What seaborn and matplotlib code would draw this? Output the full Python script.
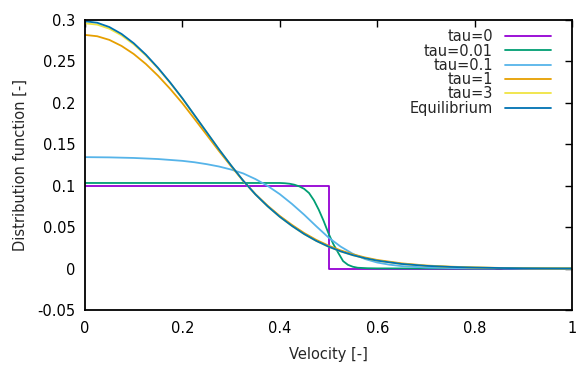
import numpy as np
import pandas as pd
import matplotlib
matplotlib.use("Agg")
import matplotlib.pyplot as plt
import seaborn as sns

sns.set_theme(style="white")
plt.rcParams['font.family'] = ['DejaVu Sans']

# ---- data ----
v_tau0 = [0.0, 0.5, 0.5, 1.0]
f_tau0 = [0.1, 0.1, 0.0, 0.0]

v_tau001 = [0.0, 0.1, 0.2, 0.3, 0.4, 0.41, 0.42, 0.43, 0.44, 0.45, 0.46, 0.47, 0.48,
            0.49, 0.50, 0.51, 0.52, 0.53, 0.54, 0.55, 0.56, 0.58, 0.6, 0.7, 0.8, 1.0]
f_tau001 = [0.1033, 0.1033, 0.1033, 0.1033, 0.1033, 0.1030, 0.1024, 0.1012, 0.0992,
            0.0962, 0.0912, 0.0825, 0.0710, 0.0575, 0.0425, 0.0295, 0.0190, 0.0090,
            0.0045, 0.0022, 0.0010, 0.0004, 0.0002, 0.0001, 0.0, 0.0]

v_tau01 = [0.0, 0.05, 0.1, 0.15, 0.2, 0.225, 0.25, 0.275, 0.3, 0.325, 0.35, 0.375,
           0.4, 0.425, 0.45, 0.475, 0.5, 0.525, 0.55, 0.575, 0.6, 0.625, 0.65, 0.7,
           0.75, 0.8, 0.84, 0.85, 0.86, 0.9, 1.0]
f_tau01 = [0.1345, 0.1342, 0.1335, 0.1322, 0.1300, 0.1283, 0.1260, 0.1232, 0.1195,
           0.1148, 0.1080, 0.0998, 0.0898, 0.0780, 0.0650, 0.0510, 0.0375, 0.0265,
           0.0178, 0.0115, 0.0073, 0.0047, 0.0030, 0.0013, 0.0006, 0.0003, 0.0003,
           0.0008, 0.0003, 0.0001, 0.0]

v_common = [0.0, 0.025, 0.05, 0.075, 0.1, 0.125, 0.15, 0.175, 0.2, 0.225, 0.25, 0.275,
            0.3, 0.325, 0.35, 0.375, 0.4, 0.425, 0.45, 0.475, 0.5, 0.525, 0.55, 0.575,
            0.6, 0.65, 0.7, 0.75, 0.8, 0.85, 0.9, 0.95, 1.0]
f_tau1 = [0.2820, 0.2804, 0.2760, 0.2687, 0.2590, 0.2469, 0.2327, 0.2168, 0.1995,
          0.1805, 0.1613, 0.1420, 0.1235, 0.1057, 0.0898, 0.0759, 0.0635, 0.0527,
          0.0429, 0.0346, 0.0277, 0.0219, 0.0172, 0.0134, 0.0104, 0.0063, 0.0037,
          0.0023, 0.0014, 0.0008, 0.0005, 0.0003, 0.0002]
f_tau3 = [0.2960, 0.2944, 0.2895, 0.2815, 0.2707, 0.2572, 0.2415, 0.2240, 0.2052,
          0.1848, 0.1644, 0.1439, 0.1244, 0.1059, 0.0894, 0.0751, 0.0624, 0.0514,
          0.0416, 0.0333, 0.0264, 0.0207, 0.0161, 0.0124, 0.0095, 0.0055, 0.0033,
          0.0020, 0.0012, 0.0007, 0.0004, 0.0002, 0.0001]
f_equil = [0.2985, 0.2967, 0.2915, 0.2832, 0.2720, 0.2582, 0.2422, 0.2245, 0.2055,
           0.1850, 0.1645, 0.1440, 0.1245, 0.1060, 0.0895, 0.0752, 0.0625, 0.0515,
           0.0417, 0.0334, 0.0265, 0.0208, 0.0162, 0.0125, 0.0096, 0.0056, 0.0033,
           0.0020, 0.0012, 0.0007, 0.0004, 0.0002, 0.0001]

labels = ["tau=0", "tau=0.01", "tau=0.1", "tau=1", "tau=3", "Equilibrium"]
colors = ["#9400d3", "#009e73", "#56b4e9", "#e69f00", "#f0e442", "#0072b2"]

series = [(v_tau0, f_tau0), (v_tau001, f_tau001), (v_tau01, f_tau01),
          (v_common, f_tau1), (v_common, f_tau3), (v_common, f_equil)]
frames = []
for lab, (vx, fy) in zip(labels, series):
    frames.append(pd.DataFrame({"Velocity": vx, "f": fy, "series": lab}))
df = pd.concat(frames, ignore_index=True)

FS = 10.5
fig = plt.figure(figsize=(5.77, 3.65), dpi=100)
ax = fig.add_axes([85 / 577, 1 - 310 / 365, (572 - 85) / 577, (310 - 20) / 365])

sns.lineplot(data=df, x="Velocity", y="f", hue="series", hue_order=labels,
             palette=dict(zip(labels, colors)), estimator=None, sort=False,
             units="series", linewidth=1.3, ax=ax, legend=False)

ax.set_xlim(0, 1)
ax.set_ylim(-0.05, 0.3)
ax.set_xticks([0, 0.2, 0.4, 0.6, 0.8, 1])
ax.set_xticklabels(["0", "0.2", "0.4", "0.6", "0.8", "1"])
ax.set_yticks([-0.05, 0, 0.05, 0.1, 0.15, 0.2, 0.25, 0.3])
ax.set_yticklabels(["-0.05", "0", "0.05", "0.1", "0.15", "0.2", "0.25", "0.3"])
ax.tick_params(direction="in", length=5, width=1.0, top=True, right=True,
               labelsize=FS, colors="black")
ax.tick_params(axis="y", pad=7)
ax.tick_params(axis="x", pad=8)
for s in ax.spines.values():
    s.set_visible(True)
    s.set_color("black")
    s.set_linewidth(1.3)

ax.set_xlabel("Velocity [-]", fontsize=FS, labelpad=7.5)
ax.set_ylabel("Distribution function [-]", fontsize=FS, labelpad=7)

handles = [plt.Line2D([], [], color=c, lw=1.3) for c in colors]
ax.legend(handles, labels, loc="upper right", bbox_to_anchor=(0.956, 0.968),
          frameon=False, markerfirst=False, fontsize=FS, handlelength=3.15,
          handletextpad=0.8, labelspacing=-0.05, borderpad=0, borderaxespad=0)

fig.savefig("out.png", dpi=100)
